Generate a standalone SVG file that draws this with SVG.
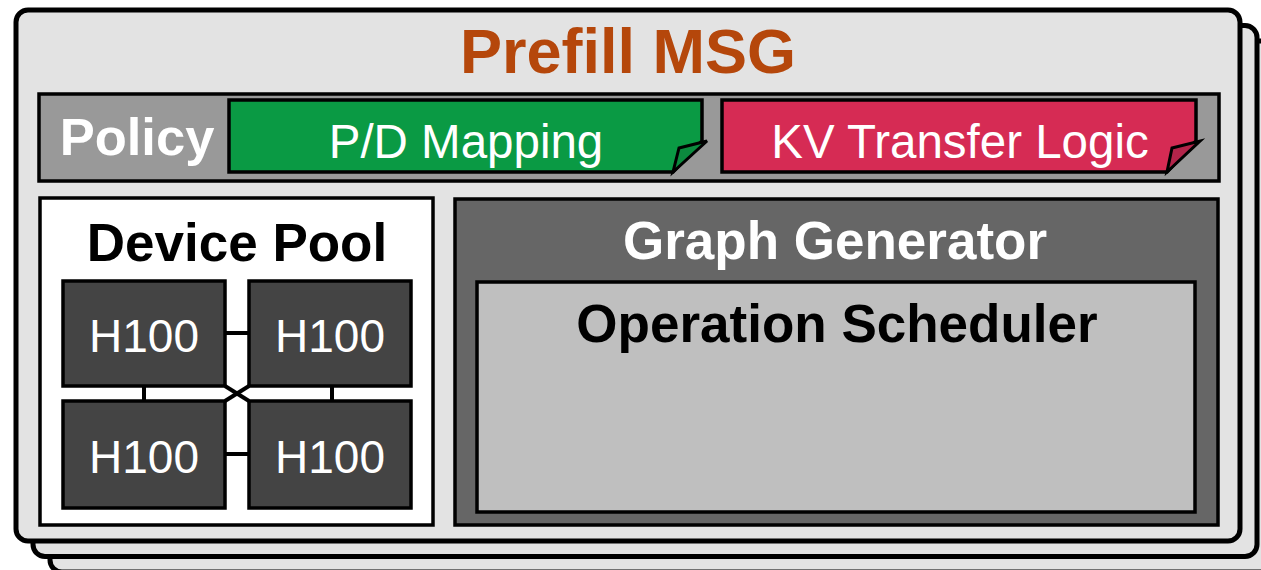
<svg xmlns="http://www.w3.org/2000/svg" width="1261" height="570" viewBox="0 0 1261 570">
  <defs>
    <style>
      .page { fill: #e3e3e3; stroke: #000; stroke-width: 5; }
      .box { stroke: #000; stroke-width: 3.5; }
      .bold { font-family: "Liberation Sans", Arial, sans-serif; font-weight: bold; text-anchor: middle; }
      .reg { font-family: "Liberation Sans", Arial, sans-serif; text-anchor: middle; fill: #fff; }
      .gpu { fill: #444444; stroke: #000; stroke-width: 3.5; }
      .link { stroke: #000; stroke-width: 4; fill: none; }
    </style>
  </defs>

  <!-- stacked MSG pages, back to front -->
  <g id="page-stack">
    <rect class="page" x="50" y="41" width="1224" height="531" rx="12"/>
    <rect class="page" x="33" y="25.5" width="1224" height="531" rx="12"/>
    <rect class="page" x="16" y="10" width="1224" height="531" rx="12"/>
  </g>

  <g id="title">
    <text class="bold" x="628" y="73" font-size="63" fill="#b5470b">Prefill MSG</text>
  </g>

  <!-- policy bar with two folded-corner notes -->
  <g id="policy">
    <rect class="box" x="39" y="94" width="1180" height="87" fill="#999999"/>
    <text class="bold" x="137" y="155" font-size="52.5" fill="#fff">Policy</text>
  </g>

  <g id="pd-mapping">
    <polygon class="box" points="229,100 702,100 702,141 673,172 229,172" fill="#0a9a44"/>
    <polygon points="679,148 707,141 673,172" fill="#0c8a3e" stroke="#000" stroke-width="3" stroke-linejoin="miter"/>
    <text class="reg" x="466" y="158" font-size="47.5">P/D Mapping</text>
  </g>

  <g id="kv-transfer">
    <polygon class="box" points="722,100 1196,100 1196,141 1167,172 722,172" fill="#d62b54"/>
    <polygon points="1172,148 1200,141 1167,172" fill="#b3244a" stroke="#000" stroke-width="3" stroke-linejoin="miter"/>
    <text class="reg" x="960" y="158" font-size="47.5">KV Transfer Logic</text>
  </g>

  <!-- device pool -->
  <g id="device-pool">
    <rect class="box" x="40" y="198" width="393" height="327" fill="#fff"/>
    <text class="bold" x="237" y="261" font-size="53" fill="#000">Device Pool</text>
  </g>

  <g id="connectors">
    <line class="link" x1="225" y1="333" x2="249" y2="333"/>
    <line class="link" x1="225" y1="454" x2="249" y2="454"/>
    <line class="link" x1="144" y1="386" x2="144" y2="401"/>
    <line class="link" x1="332" y1="386" x2="332" y2="401"/>
    <line class="link" x1="225" y1="386" x2="249" y2="401"/>
    <line class="link" x1="249" y1="386" x2="225" y2="401"/>
  </g>

  <g id="gpu-1">
    <rect class="gpu" x="63" y="281" width="162" height="105"/>
    <text class="reg" x="144" y="352" font-size="46">H100</text>
  </g>
  <g id="gpu-2">
    <rect class="gpu" x="249" y="281" width="162" height="105"/>
    <text class="reg" x="330" y="352" font-size="46">H100</text>
  </g>
  <g id="gpu-3">
    <rect class="gpu" x="63" y="401" width="162" height="107"/>
    <text class="reg" x="144" y="473" font-size="46">H100</text>
  </g>
  <g id="gpu-4">
    <rect class="gpu" x="249" y="401" width="162" height="107"/>
    <text class="reg" x="330" y="473" font-size="46">H100</text>
  </g>

  <!-- graph generator with nested scheduler -->
  <g id="graph-generator">
    <rect class="box" x="455" y="199" width="763" height="326" fill="#666666"/>
    <text class="bold" x="835" y="259" font-size="53" fill="#fff">Graph Generator</text>
  </g>

  <g id="operation-scheduler">
    <rect class="box" x="477" y="282" width="718" height="230" fill="#bfbfbf"/>
    <text class="bold" x="837" y="342" font-size="53" fill="#000">Operation Scheduler</text>
  </g>
</svg>
